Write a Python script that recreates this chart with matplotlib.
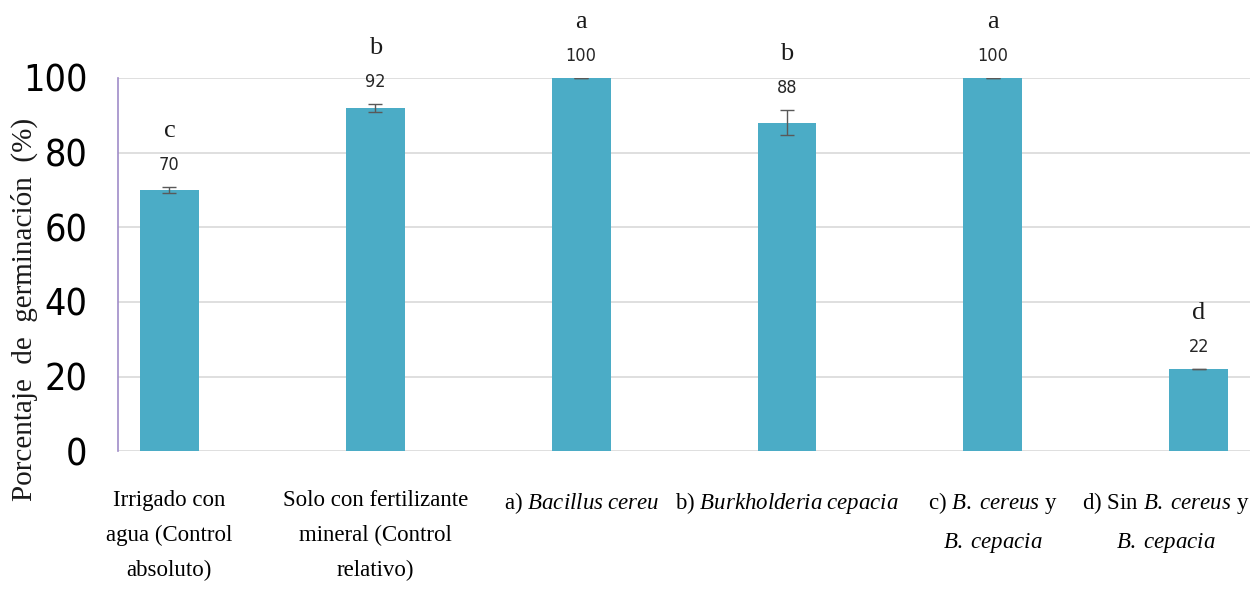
import matplotlib
matplotlib.use('Agg')
import matplotlib.pyplot as plt
from matplotlib.transforms import ScaledTranslation
import numpy as np

categories = [
    'Irrigado con\nagua (Control\nabsoluto)',
    'Solo con fertilizante\nmineral (Control\nrelativo)',
    r'a) $\mathit{Bacillus\;cereu}$',
    r'b) $\mathit{Burkholderia\;cepacia}$',
    'c) $\\mathit{B.\\;cereus}$ y\n$\\mathit{B.\\;cepacia}$',
    'd) Sin $\\mathit{B.\\;cereus}$ y\n$\\mathit{B.\\;cepacia}$',
]
germination = [70, 92, 100, 88, 100, 22]
errors = [0.8, 1.1, 0.0, 3.4, 0.0, 0.0]
groups = ['c', 'b', 'a', 'b', 'a', 'd']
yticks = [0, 20, 40, 60, 80, 100]

bar_color = '#4BACC6'
serif = ['Liberation Serif', 'DejaVu Serif']
sans = ['DejaVu Sans']

plt.rcParams['mathtext.fontset'] = 'custom'
plt.rcParams['mathtext.rm'] = 'Liberation Serif'
plt.rcParams['mathtext.it'] = 'Liberation Serif:italic'

fig = plt.figure(figsize=(12.51, 5.89), dpi=100)
ax = fig.add_axes([0.0943, 0.234, 0.905, 0.6336])

x = np.arange(len(germination))
ax.bar(x, germination, width=0.286, color=bar_color, zorder=3)
ax.errorbar(x, germination, yerr=errors, fmt='none', ecolor='#595959',
            elinewidth=1.0, capsize=5, capthick=1.0, zorder=4)

for xi, v, e, g in zip(x, germination, errors, groups):
    top = v + e
    ax.text(xi, top + 3.5, f'{v}', ha='center', va='bottom',
            fontsize=13, family=sans, fontstretch='condensed', color='#262626')
    ax.text(xi, top + 12, g, ha='center', va='bottom',
            fontsize=19, family=serif, color='#1a1a1a')

ax.set_xlim(-0.25, 5.25)
ax.set_ylim(0, 100)
ax.set_yticks(yticks)
ax.set_yticklabels([str(t) for t in yticks], family=sans,
                   fontstretch='condensed', fontsize=27)
ax.set_xticks(x)
ax.set_xticklabels(categories, family=serif, fontsize=16.5, linespacing=1.85,
                   multialignment='center')
ax.tick_params(axis='x', length=0, pad=28)
ax.tick_params(axis='y', length=0, pad=22)

# last category label sits flush with the right edge
last = ax.get_xticklabels()[-1]
last.set_transform(last.get_transform()
                   + ScaledTranslation(-0.33, 0, fig.dpi_scale_trans))

ax.grid(axis='y', color='#D9D9D9', linewidth=1.2, zorder=0)
for side in ['top', 'right', 'bottom']:
    ax.spines[side].set_visible(False)
ax.spines['left'].set_color('#A08CC8')
ax.spines['left'].set_linewidth(1.2)

ax.set_ylabel('Porcentaje  de  germinación  (%)', family=serif, fontsize=21,
              color='#1a1a1a')
ax.yaxis.set_label_coords(-0.071, 0.38)

fig.savefig('out.png', dpi=100)
